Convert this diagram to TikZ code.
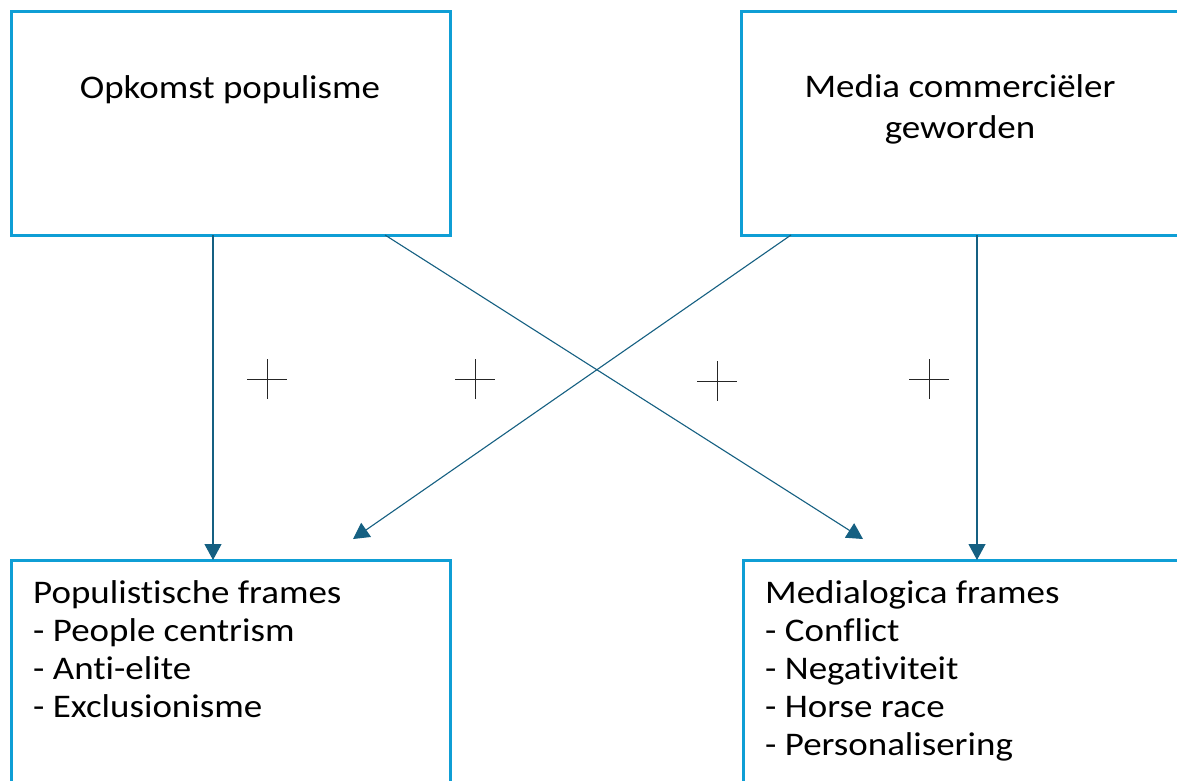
\documentclass[tikz,border=0pt]{standalone}
\usepackage{fontspec}
\setmainfont{Carlito}[FakeStretch=1.12, Ligatures=NoCommon]
\usetikzlibrary{arrows.meta}
\definecolor{boxblue}{HTML}{0F9ED5}
\definecolor{arrowteal}{HTML}{156082}
\begin{document}
\begin{tikzpicture}[x=1pt,y=-1pt,
  box/.style={draw=boxblue, line width=3pt, minimum width=439pt, minimum height=224pt,
    anchor=north west, inner sep=0pt, outer sep=0pt},
  conn/.style={draw=arrowteal, line width=1.1pt, -{Triangle[length=16pt,width=17pt]}},
  title/.style={font=\fontsize{33}{41}\selectfont, align=center, inner sep=0pt, anchor=base},
  list/.style={font=\fontsize{33}{38}\selectfont, align=left, inner sep=0pt, anchor=base west},
  plusmark/.style={line width=1pt, draw=black!85}]
\useasboundingbox (0,0) rectangle (1177,780);
\clip (0,0) rectangle (1177,780);
\fill[white] (0,0) rectangle (1177,780);
% boxes
\node[box] (b1) at (11,11) {};
\node[box] (b2) at (741,11) {};
\node[box] (b3) at (11,560) {};
\node[box] (b4) at (743,560) {};
% texts (anchor base = baseline of last line)
\node[title] (t1) at (230,98) {Opkomst populisme};
\node[title] (t2) at (960,138) {Media commerciëler\\geworden};
\node[list] (t3) at (33,717) {Populistische frames\\- People centrism\\- Anti-elite\\- Exclusionisme};
\node[list] (t4) at (765,755) {Medialogica frames\\- Conflict\\- Negativiteit\\- Horse race\\- Personalisering};
% free arrow ends
\coordinate (e2) at (863,539);
\coordinate (e3) at (353,539);
% connectors
\draw[conn] ([xshift=202pt]b1.south west) -- ([xshift=202pt]b3.north west);
\draw[conn] ([xshift=374pt]b1.south west) -- (e2);
\draw[conn] ([xshift=50pt]b2.south west) -- (e3);
\draw[conn] ([xshift=236pt]b2.south west) -- ([xshift=234pt]b4.north west);
% plus signs
\foreach \x/\y in {267/379,475/379,717/381,929/379}
  \draw[plusmark] (\x-20,\y) -- (\x+20,\y) (\x,\y-20) -- (\x,\y+20);
\end{tikzpicture}
\end{document}
